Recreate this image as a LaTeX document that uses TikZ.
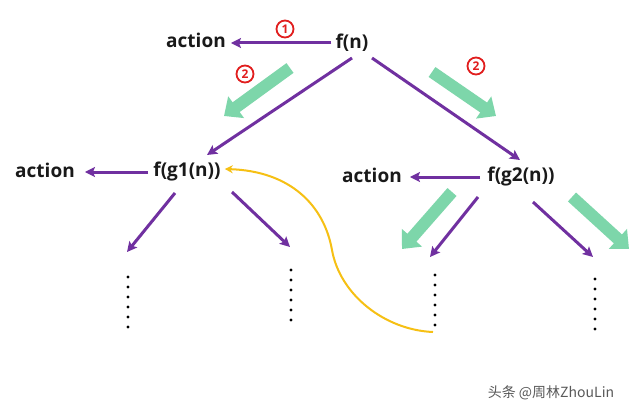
\documentclass[tikz,border=0pt]{standalone}
\usepackage{fontspec}
\setmainfont{Open Sans}
\newfontfamily\cjk{Noto Sans CJK SC}
\usetikzlibrary{arrows.meta,calc}
\definecolor{ppl}{RGB}{112,48,160}
\definecolor{mint}{RGB}{125,214,170}
\definecolor{gold}{RGB}{246,192,20}
\definecolor{rd}{RGB}{225,30,30}
\tikzset{
  lbl/.style={inner sep=0pt, font=\fontsize{19}{21}\selectfont\bfseries, text=black!90},
  parrow/.style={draw=ppl, line width=3pt, -{Stealth[length=10pt,width=10pt,inset=2pt]}},
  garrow/.style={draw=mint, line width=12pt, -{Triangle[width=26pt,length=15pt]}},
  num/.style={circle, draw=rd, line width=1.8pt, text=rd, inner sep=0pt, minimum size=17pt, font=\fontsize{12}{13}\selectfont\bfseries},
  dotc/.style={fill=black, radius=1.7pt},
}
\begin{document}
\begin{tikzpicture}[x=1pt,y=-1pt]
\useasboundingbox[fill=white] (0,0) rectangle (640,412);
% nodes
\node[lbl] (fn) at (352,43) {f(n)};
\node[lbl] (a0) at (196,40) {action};
\node[lbl] (g1) at (187,172) {f(g1(n))};
\node[lbl] (a1) at (45,170) {action};
\node[lbl] (g2) at (521,177) {f(g2(n))};
\node[lbl] (a2) at (372,175) {action};
\node[num] (c1) at (285,29) {1};
\node[num] (c2a) at (245,74) {2};
\node[num] (c2b) at (476,66) {2};
% coordinates for child arrow tips
\coordinate (d1) at (127,252);
\coordinate (d2) at (290,247);
\coordinate (d3) at (430,257);
\coordinate (d4) at (593,257);
\coordinate (y0) at (433,332);
% green arrows
\draw[garrow] (290,68) -- (224,116);
\draw[garrow] (432,72) -- (496,116);
\draw[garrow] (452,192) -- (402,249);
\draw[garrow] (572,197) -- (629,249);
% purple arrows
\draw[parrow, shorten <=4pt, shorten >=5pt] (fn.west) -- (a0.east |- fn.west);
\draw[parrow, shorten <=5pt, shorten >=10pt] (g1.west) -- (a1.east |- g1.west);
\draw[parrow, shorten <=7pt, shorten >=8pt] (g2.west) -- (a2.east |- g2.west);
\draw[parrow] ($(fn)+(0,15)$) -- ($(g1)+(20,-17)$);
\draw[parrow] ($(fn)+(20,15)$) -- ($(g2)+(-1,-17)$);
\draw[parrow] ($(g1)+(-12,21)$) -- (d1);
\draw[parrow] ($(g1)+(45,20)$) -- (d2);
\draw[parrow] ($(g2)+(-43,20)$) -- (d3);
\draw[parrow] ($(g2)+(12,25)$) -- (d4);
% dots
\foreach \i in {0,...,5} {
  \fill[dotc] (128,277+10*\i) circle;
  \fill[dotc] (291,270+10*\i) circle;
  \fill[dotc] (435,275+10*\i) circle;
  \fill[dotc] (595,279+10*\i) circle;
}
% yellow curve
\draw[draw=gold, line width=2pt, -{Stealth[length=8pt,width=8pt]}]
  (y0) .. controls (385,330) and (340,295) .. (332,250)
       .. controls (324,205) and (290,171) .. ($(g1.east)+(4,-3)$);
% watermark
\node[font=\fontsize{14}{16}\selectfont, text=black!65, anchor=center] (wm) at (551,393) {\cjk 头条 @周林ZhouLin};
\end{tikzpicture}
\end{document}
